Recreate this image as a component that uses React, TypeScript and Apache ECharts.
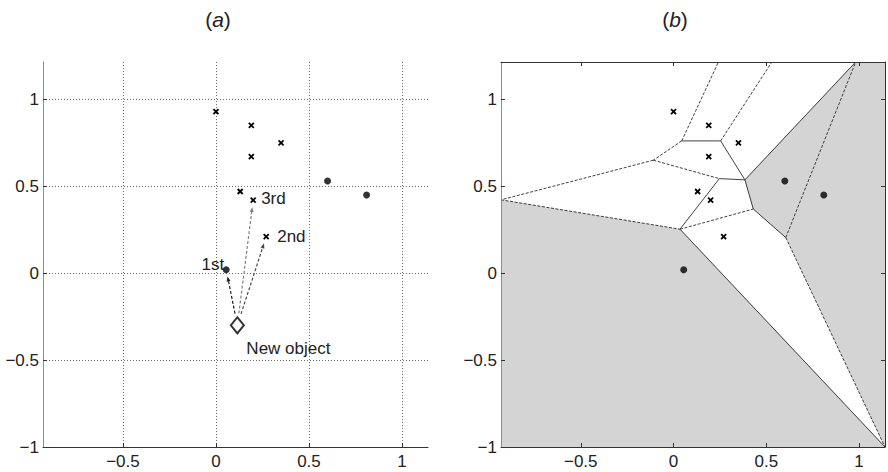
import React, { useEffect, useRef } from 'react';
import * as echarts from 'echarts';

// Shared axis extents and tick positions of both panels
const X_RANGE = [-0.93, 1.14];
const Y_RANGE = [-1, 1.215];
const X_TICKS = [-0.5, 0, 0.5, 1];
const Y_TICKS = [-1, -0.5, 0, 0.5, 1];

// Training objects of the two classes
const crossX = [0.0, 0.19, 0.19, 0.35, 0.13, 0.2, 0.27];
const crossY = [0.93, 0.85, 0.67, 0.75, 0.47, 0.42, 0.21];
const dotX = [0.6, 0.81, 0.055];
const dotY = [0.53, 0.45, 0.02];

// Object to be classified
const newObject = [0.115, -0.3];

// Its three nearest neighbours, in rank order: [class, index]
const neighbourRefs: [string, number][] = [
  ['dot', 2],
  ['cross', 6],
  ['cross', 5],
];
const neighbourLabels = ['1st', '2nd', '3rd'];

// Voronoi tessellation of the training objects (panel b)
const vertexX = [0.044, 0.254, -0.109, -0.93, 0.247, 0.385, 0.43, 0.035, 0.605, 1.14, 0.242, 0.53, 0.982, 1.14, -0.93];
const vertexY = [0.761, 0.761, 0.65, 0.422, 0.544, 0.537, 0.369, 0.253, 0.205, -1, 1.215, 1.215, 1.215, 1.215, -1];
// [from, to, dashed]
const voronoiEdges: [number, number, boolean][] = [
  [0, 10, true],
  [0, 1, false],
  [1, 11, true],
  [0, 2, true],
  [2, 3, true],
  [2, 4, true],
  [4, 5, false],
  [5, 1, false],
  [5, 12, false],
  [5, 6, false],
  [4, 7, false],
  [3, 7, true],
  [7, 6, true],
  [6, 8, false],
  [8, 12, true],
  [8, 9, true],
  [7, 9, false],
];
// cells belonging to the "dot" class are shaded
const shadedCells = [
  [5, 12, 8, 6],
  [12, 13, 9, 8],
  [3, 7, 9, 14],
];

const FONT = '"Liberation Sans", Arial, Helvetica, sans-serif';
const INK = '#000';

const fmt = (v: number) => {
  const all = X_TICKS.concat(Y_TICKS);
  if (!all.some((t) => Math.abs(t - v) < 1e-9)) return '';
  const s = String(Math.abs(v));
  return v < 0 ? '\u2212' + s : s;
};

const gridLineStyle = { color: '#6e6e6e', type: [1, 2], width: 1 };

function xAxis(gridIndex: number, position: string, labels: boolean, grid: boolean, z: number) {
  return {
    type: 'value',
    gridIndex,
    position,
    min: X_RANGE[0],
    max: X_RANGE[1],
    z,
    axisLine: { show: true, onZero: false, lineStyle: { color: '#333', width: 1 } },
    axisTick: { show: true, inside: true, length: 4, customValues: X_TICKS, lineStyle: { color: '#333' } },
    axisLabel: {
      show: labels,
      customValues: X_TICKS,
      formatter: fmt,
      fontSize: 17,
      fontFamily: FONT,
      color: '#222',
      margin: 6,
    },
    splitLine: { show: grid, lineStyle: gridLineStyle },
  };
}

function yAxis(gridIndex: number, position: string, labels: boolean, grid: boolean, z: number, lineColor: string) {
  return {
    type: 'value',
    gridIndex,
    position,
    min: Y_RANGE[0],
    max: Y_RANGE[1],
    z,
    axisLine: { show: true, onZero: false, lineStyle: { color: lineColor, width: 1 } },
    axisTick: { show: true, inside: true, length: 4, customValues: Y_TICKS, lineStyle: { color: '#333' } },
    axisLabel: {
      show: labels,
      customValues: Y_TICKS,
      formatter: fmt,
      fontSize: 17,
      fontFamily: FONT,
      color: '#222',
      margin: 4,
    },
    splitLine: { show: grid, lineStyle: gridLineStyle },
  };
}

function crossSeries(xi: number, yi: number) {
  return {
    type: 'custom',
    xAxisIndex: xi,
    yAxisIndex: yi,
    z: 6,
    data: crossX.map((x, i) => [x, crossY[i]]),
    renderItem: (_p: any, api: any) => {
      const [cx, cy] = api.coord([api.value(0), api.value(1)]);
      const r = 2.5;
      return {
        type: 'group',
        children: [
          { type: 'line', shape: { x1: cx - r, y1: cy - r, x2: cx + r, y2: cy + r }, style: { stroke: INK, lineWidth: 1.8 } },
          { type: 'line', shape: { x1: cx - r, y1: cy + r, x2: cx + r, y2: cy - r }, style: { stroke: INK, lineWidth: 1.8 } },
        ],
      };
    },
  };
}

function dotSeries(xi: number, yi: number) {
  return {
    type: 'scatter',
    xAxisIndex: xi,
    yAxisIndex: yi,
    z: 6,
    symbol: 'circle',
    symbolSize: 7,
    itemStyle: { color: INK },
    data: dotX.map((x, i) => [x, dotY[i]]),
  };
}

const neighbourPoint = (ref: [string, number]) =>
  ref[0] === 'dot' ? [dotX[ref[1]], dotY[ref[1]]] : [crossX[ref[1]], crossY[ref[1]]];

const neighbourColors = ['#1c1c1c', '#4a4a4a', '#808080'];

// text placement relative to the labelled mark: [dx, dy, align]
const labelPlacement: [number, number, string][] = [
  [-2, -5, 'right'],
  [11, 0, 'left'],
  [8, -2, 'left'],
];

const titleStyle = (letter: string) => ({
  text: '{p|(}{i|' + letter + '}{p|)}',
  align: 'center',
  verticalAlign: 'middle',
  fill: '#222',
  rich: {
    p: { fontSize: 21, fontFamily: FONT, fill: '#222' },
    i: { fontSize: 21, fontFamily: FONT, fontStyle: 'italic', fill: '#222' },
  },
});

export default function App() {
  const ref = useRef<HTMLDivElement>(null);

  useEffect(() => {
    if (!ref.current) return;
    const chart = echarts.init(ref.current, undefined, { renderer: 'svg' });

    const neighbours = neighbourRefs.map(neighbourPoint);

    const option: any = {
      animation: false,
      backgroundColor: '#fff',
      grid: [
        { left: 43, top: 62, width: 385, height: 385 },
        { left: 501, top: 62, width: 384, height: 385 },
      ],
      xAxis: [
        xAxis(0, 'bottom', true, true, 0),
        xAxis(1, 'bottom', true, false, 10),
        xAxis(1, 'top', false, false, 10),
      ],
      yAxis: [
        yAxis(0, 'left', true, true, 0, '#8c8c8c'),
        yAxis(1, 'left', true, false, 10, '#8c8c8c'),
        yAxis(1, 'right', false, false, 10, '#333'),
      ],
      graphic: [
        { type: 'text', x: 218, y: 19, style: titleStyle('a') },
        { type: 'text', x: 675, y: 19, style: titleStyle('b') },
      ],
      series: [
        // (a) dashed arrows from the new object towards its neighbours
        {
          type: 'custom',
          xAxisIndex: 0,
          yAxisIndex: 0,
          z: 4,
          data: neighbours,
          renderItem: (params: any, api: any) => {
            const i = params.dataIndex;
            const p0 = api.coord(newObject);
            const p1 = api.coord([api.value(0), api.value(1)]);
            const dx = p1[0] - p0[0];
            const dy = p1[1] - p0[1];
            const len = Math.hypot(dx, dy);
            const ux = dx / len;
            const uy = dy / len;
            const sx = p0[0] + ux * 12;
            const sy = p0[1] + uy * 12;
            const ex = p1[0] - ux * 7;
            const ey = p1[1] - uy * 7;
            const head = 5;
            const half = 2;
            const bx = ex - ux * head;
            const by = ey - uy * head;
            const color = neighbourColors[i];
            return {
              type: 'group',
              children: [
                { type: 'line', shape: { x1: sx, y1: sy, x2: bx, y2: by }, style: { stroke: color, lineWidth: 1.2, lineDash: [3, 2] } },
                {
                  type: 'polygon',
                  shape: { points: [[ex, ey], [bx - uy * half, by + ux * half], [bx + uy * half, by - ux * half]] },
                  style: { fill: color },
                },
              ],
            };
          },
        },
        crossSeries(0, 0),
        dotSeries(0, 0),
        // (a) the new object
        {
          type: 'scatter',
          xAxisIndex: 0,
          yAxisIndex: 0,
          z: 7,
          symbol: 'diamond',
          symbolSize: [13, 16],
          itemStyle: { color: '#fff', borderColor: INK, borderWidth: 2 },
          data: [newObject],
        },
        // (a) neighbour ranks and caption of the new object
        {
          type: 'custom',
          xAxisIndex: 0,
          yAxisIndex: 0,
          z: 8,
          data: neighbours.map((p, i) => [p[0], p[1], i]).concat([[newObject[0], newObject[1], 3]]),
          renderItem: (_params: any, api: any) => {
            const idx = api.value(2);
            const [px, py] = api.coord([api.value(0), api.value(1)]);
            const place: [number, number, string] = idx < 3 ? labelPlacement[idx] : [9, 23, 'left'];
            const text = idx < 3 ? neighbourLabels[idx] : 'New object';
            return {
              type: 'text',
              x: px + place[0],
              y: py + place[1],
              style: {
                text,
                fill: '#222',
                font: '17px ' + FONT,
                align: place[2],
                verticalAlign: 'middle',
              },
            };
          },
        },
        // (b) shaded cells of the "dot" class
        {
          type: 'custom',
          xAxisIndex: 1,
          yAxisIndex: 1,
          z: 2,
          clip: true,
          data: shadedCells.map((_c, i) => [i]),
          renderItem: (params: any, api: any) => {
            const cell = shadedCells[params.dataIndex];
            const points = cell.map((v) => api.coord([vertexX[v], vertexY[v]]));
            return { type: 'polygon', shape: { points }, style: { fill: '#d4d4d4', stroke: '#d4d4d4', lineWidth: 0.5 } };
          },
        },
        // (b) Voronoi edges
        {
          type: 'custom',
          xAxisIndex: 1,
          yAxisIndex: 1,
          z: 3,
          clip: true,
          data: voronoiEdges.map((_e, i) => [i]),
          renderItem: (params: any, api: any) => {
            const [a, b, dashed] = voronoiEdges[params.dataIndex];
            const p = api.coord([vertexX[a], vertexY[a]]);
            const q = api.coord([vertexX[b], vertexY[b]]);
            return {
              type: 'line',
              shape: { x1: p[0], y1: p[1], x2: q[0], y2: q[1] },
              style: { stroke: '#2a2a2a', lineWidth: 0.9, lineDash: dashed ? [3, 1.6] : null },
            };
          },
        },
        crossSeries(1, 1),
        dotSeries(1, 1),
      ],
    };

    chart.setOption(option);
    return () => chart.dispose();
  }, []);

  return (
    <div
      ref={ref}
      style={{ position: 'fixed', left: 0, top: 0, width: 888, height: 472, background: '#fff' }}
    />
  );
}
